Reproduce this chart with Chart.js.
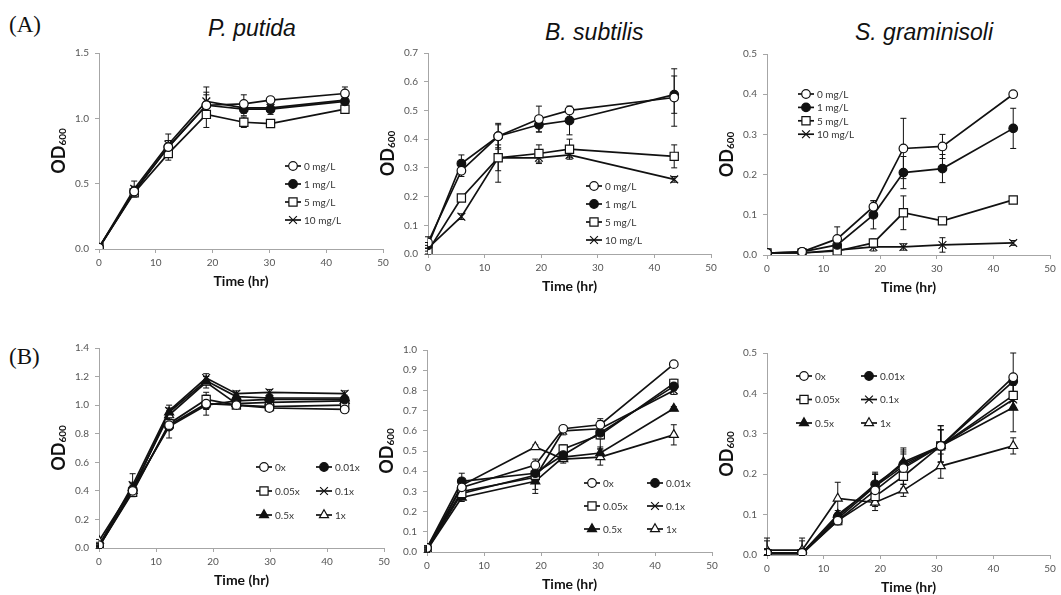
<!DOCTYPE html>
<html><head><meta charset="utf-8">
<script src="https://cdn.jsdelivr.net/npm/chart.js@4.4.1/dist/chart.umd.min.js"></script>
<style>
html,body{margin:0;padding:0;background:#fff}
body{width:1061px;height:595px;position:relative;overflow:hidden}
canvas{position:absolute}
.lbl{position:absolute;line-height:1;white-space:nowrap;color:#111}
.pl{font-family:'Liberation Serif','Times New Roman',serif;font-size:23px}
.sp{font-family:'Liberation Sans',Arial,sans-serif;font-style:italic;font-size:23px}
</style></head><body>
<div class="lbl pl" style="left:9px;top:13px">(A)</div>
<div class="lbl pl" style="left:9px;top:345px">(B)</div>
<div class="lbl sp" style="left:208px;top:17px">P. putida</div>
<div class="lbl sp" style="left:545px;top:21px">B. subtilis</div>
<div class="lbl sp" style="left:855px;top:21px">S. graminisoli</div>
<script>
// ---------- DATA ----------
const labelsA = ['0 mg/L', '1 mg/L', '5 mg/L', '10 mg/L'];
const labelsB = ['0x', '0.01x', '0.05x', '0.1x', '0.5x', '1x'];

// (A) P. putida
const timeA1 = [0, 6.2, 12.2, 18.9, 25.5, 30.2, 43.3];
const a1_0mg  = [0.01, 0.44, 0.78, 1.10, 1.11, 1.14, 1.19];
const a1_1mg  = [0.01, 0.44, 0.78, 1.10, 1.07, 1.07, 1.13];
const a1_5mg  = [0.01, 0.43, 0.73, 1.03, 0.97, 0.96, 1.07];
const a1_10mg = [0.01, 0.46, 0.80, 1.13, 1.08, 1.08, 1.14];
const a1_0mgErr  = [0, 0.03, 0.05, 0.08, 0.07, 0.02, 0.05];
const a1_1mgErr  = [0, 0.04, 0.05, 0.10, 0.05, 0.04, 0.03];
const a1_5mgErr  = [0, 0.03, 0.05, 0.10, 0.04, 0.02, 0.02];
const a1_10mgErr = [0, 0.06, 0.08, 0.11, 0.04, 0.03, 0.03];

// (A) B. subtilis
const timeA2 = [0, 5.9, 12.4, 19.6, 25.0, 43.5];
const a2_0mg  = [0.04, 0.29, 0.41, 0.47, 0.50, 0.545];
const a2_1mg  = [0.03, 0.315, 0.41, 0.45, 0.465, 0.555];
const a2_5mg  = [0.01, 0.195, 0.335, 0.35, 0.365, 0.34];
const a2_10mg = [0.02, 0.13, 0.335, 0.335, 0.345, 0.26];
const a2_0mgErr  = [0.02, 0.02, 0.04, 0.045, 0.01, 0.10];
const a2_1mgErr  = [0.01, 0.03, 0.045, 0.025, 0.05, 0.065];
const a2_5mgErr  = [0.01, 0.01, 0.045, 0.03, 0.035, 0.04];
const a2_10mgErr = [0.01, 0.01, 0.085, 0.02, 0.01, 0.01];

// (A) S. graminisoli
const timeA3 = [0, 6.2, 12.4, 18.8, 24.1, 31.0, 43.5];
const a3_0mg  = [0.005, 0.008, 0.04, 0.12, 0.265, 0.27, 0.40];
const a3_1mg  = [0.005, 0.008, 0.025, 0.10, 0.205, 0.215, 0.315];
const a3_5mg  = [0.005, 0.005, 0.01, 0.03, 0.105, 0.085, 0.137];
const a3_10mg = [0.005, 0.005, 0.012, 0.02, 0.02, 0.025, 0.03];
const a3_0mgErr  = [0, 0.002, 0.03, 0.015, 0.075, 0.03, 0.005];
const a3_1mgErr  = [0, 0.002, 0.01, 0.035, 0.04, 0.035, 0.05];
const a3_5mgErr  = [0, 0, 0.005, 0.01, 0.042, 0.005, 0.008];
const a3_10mgErr = [0, 0, 0.003, 0.01, 0.008, 0.018, 0.006];

// (B) P. putida
const timeB1 = [0, 5.9, 12.3, 18.8, 24.1, 29.9, 43.1];
const b1_0x   = [0.02, 0.40, 0.86, 1.01, 1.00, 0.98, 0.97];
const b1_001x = [0.01, 0.41, 0.85, 1.00, 1.03, 1.04, 1.04];
const b1_005x = [0.01, 0.39, 0.87, 1.04, 1.00, 0.99, 1.00];
const b1_01x  = [0.02, 0.44, 0.96, 1.19, 1.08, 1.09, 1.08];
const b1_05x  = [0.01, 0.40, 0.95, 1.17, 1.06, 1.05, 1.05];
const b1_1x   = [0.05, 0.42, 0.93, 1.16, 1.01, 1.02, 1.03];
const b1_0xErr   = [0.01, 0.03, 0.03, 0.04, 0.02, 0.02, 0.02];
const b1_001xErr = [0.01, 0.04, 0.08, 0.07, 0.02, 0.02, 0.02];
const b1_005xErr = [0.01, 0.03, 0.04, 0.05, 0.02, 0.01, 0.02];
const b1_01xErr  = [0.01, 0.08, 0.04, 0.03, 0.02, 0.02, 0.02];
const b1_05xErr  = [0.01, 0.04, 0.03, 0.03, 0.02, 0.02, 0.02];
const b1_1xErr   = [0.01, 0.04, 0.03, 0.04, 0.02, 0.02, 0.02];

// (B) B. subtilis
const timeB2 = [0, 6.1, 19.0, 23.9, 30.4, 43.3];
const b2_0x   = [0.02, 0.32, 0.43, 0.61, 0.63, 0.93];
const b2_001x = [0.02, 0.35, 0.39, 0.48, 0.59, 0.82];
const b2_005x = [0.01, 0.29, 0.38, 0.51, 0.58, 0.835];
const b2_01x  = [0.02, 0.30, 0.37, 0.60, 0.61, 0.80];
const b2_05x  = [0.01, 0.27, 0.35, 0.47, 0.49, 0.71];
const b2_1x   = [0.01, 0.33, 0.52, 0.46, 0.47, 0.58];
const b2_0xErr   = [0.01, 0.03, 0.03, 0.01, 0.03, 0.01];
const b2_001xErr = [0.01, 0.04, 0.02, 0.02, 0.03, 0.02];
const b2_005xErr = [0.01, 0.02, 0.03, 0.02, 0.07, 0.02];
const b2_01xErr  = [0.01, 0.03, 0.06, 0.02, 0.03, 0.02];
const b2_05xErr  = [0.01, 0.02, 0.06, 0.02, 0.03, 0.01];
const b2_1xErr   = [0.01, 0.03, 0.01, 0.02, 0.04, 0.05];

// (B) S. graminisoli
const timeB3 = [0, 6.2, 12.5, 19.1, 24.1, 30.7, 43.5];
const b3_0x   = [0.005, 0.005, 0.085, 0.16, 0.215, 0.27, 0.44];
const b3_001x = [0.005, 0.005, 0.095, 0.175, 0.225, 0.27, 0.43];
const b3_005x = [0.003, 0.003, 0.085, 0.145, 0.195, 0.27, 0.395];
const b3_01x  = [0.005, 0.005, 0.09, 0.17, 0.22, 0.27, 0.385];
const b3_05x  = [0.005, 0.005, 0.10, 0.17, 0.23, 0.27, 0.365];
const b3_1x   = [0.012, 0.012, 0.14, 0.13, 0.16, 0.22, 0.27];
const b3_0xErr   = [0.03, 0.03, 0.01, 0.04, 0.04, 0.05, 0.06];
const b3_001xErr = [0.01, 0.01, 0.01, 0.03, 0.04, 0.04, 0.01];
const b3_005xErr = [0.01, 0.01, 0.01, 0.02, 0.03, 0.04, 0.03];
const b3_01xErr  = [0.01, 0.01, 0.01, 0.03, 0.03, 0.04, 0.02];
const b3_05xErr  = [0.01, 0.01, 0.01, 0.03, 0.03, 0.05, 0.06];
const b3_1xErr   = [0.03, 0.03, 0.04, 0.02, 0.015, 0.03, 0.02];

// y axis maxima / steps (tick labels)
const yMaxA = [1.5, 0.7, 0.5];
const yStepA = [0.5, 0.1, 0.1];
const yMaxB = [1.4, 1.0, 0.5];
const yStepB = [0.2, 0.1, 0.1];

// ---------- STYLE ----------
const markA = [['circle', false], ['circle', true], ['rect', false], ['crossRot', false]];
const markB = [['circle', false], ['circle', true], ['rect', false], ['crossRot', false], ['triangle', true], ['triangle', false]];
const radius = { circle: 4.3, rect: 5.8, crossRot: 5.5, triangle: 5.2 };
const TICK_FONT = { family: "Lato, 'Open Sans', sans-serif", size: 10 };

const errorBars = {
  id: 'errorBars',
  beforeDatasetsDraw(chart) {
    const ctx = chart.ctx, xs = chart.scales.x, ys = chart.scales.y;
    ctx.save();
    ctx.strokeStyle = '#111';
    ctx.lineWidth = 1;
    chart.data.datasets.forEach(ds => {
      ds.data.forEach((p, i) => {
        const e = ds.errs[i];
        if (!e) return;
        const x = xs.getPixelForValue(p.x);
        const y1 = ys.getPixelForValue(p.y + e);
        const y2 = ys.getPixelForValue(Math.max(0, p.y - e));
        ctx.beginPath();
        ctx.moveTo(x, y1); ctx.lineTo(x, y2);
        ctx.moveTo(x - 3, y1); ctx.lineTo(x + 3, y1);
        ctx.moveTo(x - 3, y2); ctx.lineTo(x + 3, y2);
        ctx.stroke();
      });
    });
    ctx.restore();
  }
};

const odTitle = {
  id: 'odTitle',
  afterDraw(chart) {
    const ca = chart.chartArea, ctx = chart.ctx;
    const cx = ca.left - 41, cy = (ca.top + ca.bottom) / 2;
    ctx.save();
    ctx.translate(cx, cy);
    ctx.rotate(-Math.PI / 2);
    ctx.fillStyle = '#111';
    const f1 = "bold 18px Lato, 'Open Sans', sans-serif";
    const f2 = "bold 10px Lato, 'Open Sans', sans-serif";
    ctx.font = f1; const w1 = ctx.measureText('OD').width;
    ctx.font = f2; const w2 = ctx.measureText('600').width;
    const x0 = -(w1 + w2) / 2;
    ctx.textBaseline = 'alphabetic';
    ctx.textAlign = 'left';
    ctx.font = f1; ctx.fillText('OD', x0, 6.5);
    ctx.font = f2; ctx.fillText('600', x0 + w1, 8);
    ctx.restore();
  }
};

const boxLegend = {
  id: 'boxLegend',
  afterDraw(chart, args, opts) {
    const ctx = chart.ctx;
    ctx.save();
    ctx.font = "10px Lato, 'Open Sans', sans-serif";
    ctx.textBaseline = 'middle';
    ctx.textAlign = 'left';
    chart.data.datasets.forEach((ds, i) => {
      const col = i % opts.cols, row = Math.floor(i / opts.cols);
      const x = opts.xs[col] - opts.ox;
      const y = opts.y0 + row * opts.dy - opts.oy;
      ctx.strokeStyle = '#111';
      ctx.lineWidth = 1.7;
      ctx.beginPath(); ctx.moveTo(x, y); ctx.lineTo(x + 16, y); ctx.stroke();
      ctx.fillStyle = ds.pointBackgroundColor;
      ctx.strokeStyle = '#111';
      ctx.lineWidth = 1.2;
      Chart.helpers.drawPoint(ctx, { pointStyle: ds.pointStyle, rotation: 0, radius: ds.pointRadius, borderWidth: 1.2 }, x + 8, y);
      ctx.fillStyle = '#333';
      ctx.fillText(ds.label, x + 19, y + 0.5);
    });
    ctx.restore();
  }
};

function makePanel(p) {
  const cl = p.L - 60, ct = p.T - 12;
  const w = p.R - p.L + 60 + 14, h = p.B - p.T + 12 + 41;
  const cv = document.createElement('canvas');
  cv.width = w; cv.height = h;
  cv.style.left = cl + 'px'; cv.style.top = ct + 'px';
  cv.style.width = w + 'px'; cv.style.height = h + 'px';
  document.body.appendChild(cv);
  const datasets = p.series.map((vals, k) => {
    const [style, filled] = p.marks[k];
    return {
      label: p.labels[k],
      data: p.times.map((t, i) => ({ x: t, y: vals[i] })),
      errs: p.errs[k],
      borderColor: '#111', borderWidth: 1.7, tension: 0, fill: false,
      pointStyle: style, pointRadius: radius[style],
      pointBackgroundColor: filled ? '#111' : '#fff',
      pointBorderColor: '#111', pointBorderWidth: 1.2
    };
  });
  new Chart(cv, {
    type: 'line',
    data: { datasets },
    options: {
      responsive: false, animation: false, devicePixelRatio: 1,
      layout: { padding: { left: 0, top: 12, right: 14, bottom: 0 } },
      plugins: {
        legend: { display: false }, tooltip: { enabled: false },
        boxLegend: { xs: p.legX, y0: p.legY, dy: p.legDy, cols: p.labels.length > 4 ? 2 : 1, ox: cl, oy: ct }
      },
      scales: {
        x: {
          type: 'linear', min: 0, max: 50,
          ticks: { stepSize: 10, color: '#555', font: TICK_FONT, padding: 4, maxRotation: 0 },
          grid: { drawOnChartArea: false, drawTicks: true, tickLength: 4, color: '#a6a6a6' },
          border: { color: '#a6a6a6', width: 1 },
          title: { display: true, text: 'Time (hr)', color: '#111', padding: 0,
                   font: { family: "Lato, 'Open Sans', sans-serif", size: 14, weight: 'bold' } },
          afterFit: s => { s.height = 41; }
        },
        y: {
          min: 0, max: p.ymax,
          ticks: { stepSize: p.step, color: '#555', font: TICK_FONT, padding: 6,
                   callback: v => Number(v).toFixed(1) },
          grid: { drawOnChartArea: false, drawTicks: true, tickLength: 4, color: '#a6a6a6' },
          border: { color: '#a6a6a6', width: 1 },
          afterFit: s => { s.width = 60; }
        }
      }
    },
    plugins: [errorBars, boxLegend, odTitle]
  });
}

makePanel({ L: 99, R: 383, T: 53, B: 249, ymax: yMaxA[0], step: yStepA[0], times: timeA1,
  series: [a1_0mg, a1_1mg, a1_5mg, a1_10mg], errs: [a1_0mgErr, a1_1mgErr, a1_5mgErr, a1_10mgErr],
  labels: labelsA, marks: markA, legX: [285], legY: 166, legDy: 18 });
makePanel({ L: 428, R: 711, T: 53, B: 254, ymax: yMaxA[1], step: yStepA[1], times: timeA2,
  series: [a2_0mg, a2_1mg, a2_5mg, a2_10mg], errs: [a2_0mgErr, a2_1mgErr, a2_5mgErr, a2_10mgErr],
  labels: labelsA, marks: markA, legX: [586], legY: 186, legDy: 18 });
makePanel({ L: 767, R: 1050, T: 54, B: 255, ymax: yMaxA[2], step: yStepA[2], times: timeA3,
  series: [a3_0mg, a3_1mg, a3_5mg, a3_10mg], errs: [a3_0mgErr, a3_1mgErr, a3_5mgErr, a3_10mgErr],
  labels: labelsA, marks: markA, legX: [798], legY: 94, legDy: 13.4 });
makePanel({ L: 99, R: 384, T: 348, B: 548, ymax: yMaxB[0], step: yStepB[0], times: timeB1,
  series: [b1_0x, b1_001x, b1_005x, b1_01x, b1_05x, b1_1x],
  errs: [b1_0xErr, b1_001xErr, b1_005xErr, b1_01xErr, b1_05xErr, b1_1xErr],
  labels: labelsB, marks: markB, legX: [256, 316], legY: 467, legDy: 24 });
makePanel({ L: 427, R: 712, T: 350, B: 552, ymax: yMaxB[1], step: yStepB[1], times: timeB2,
  series: [b2_0x, b2_001x, b2_005x, b2_01x, b2_05x, b2_1x],
  errs: [b2_0xErr, b2_001xErr, b2_005xErr, b2_01xErr, b2_05xErr, b2_1xErr],
  labels: labelsB, marks: markB, legX: [584, 647], legY: 483, legDy: 23 });
makePanel({ L: 767, R: 1050, T: 353, B: 555, ymax: yMaxB[2], step: yStepB[2], times: timeB3,
  series: [b3_0x, b3_001x, b3_005x, b3_01x, b3_05x, b3_1x],
  errs: [b3_0xErr, b3_001xErr, b3_005xErr, b3_01xErr, b3_05xErr, b3_1xErr],
  labels: labelsB, marks: markB, legX: [796, 861], legY: 376, legDy: 23.5 });
</script>
</body></html>
